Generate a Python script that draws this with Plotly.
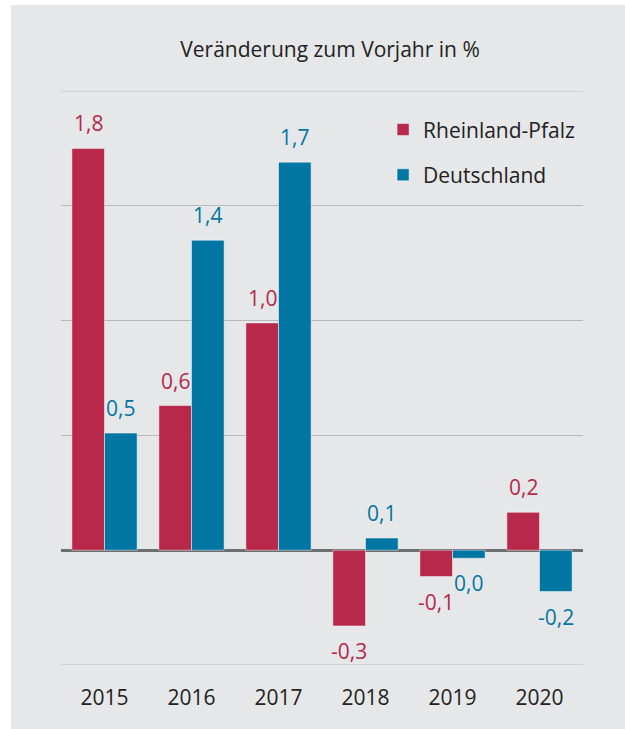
import plotly.graph_objects as go

years = ["2015", "2016", "2017", "2018", "2019", "2020"]

rp_name = "Rheinland-Pfalz"
rp_values = [1.75, 0.63, 0.99, -0.33, -0.115, 0.165]
rp_labels = ["1,8", "0,6", "1,0", "-0,3", "-0,1", "0,2"]

de_name = "Deutschland"
de_values = [0.51, 1.35, 1.69, 0.053, -0.035, -0.18]
de_labels = ["0,5", "1,4", "1,7", "0,1", "0,0", "-0,2"]

title_text = "Veränderung zum Vorjahr in %"

RED = "#b7284b"
BLUE = "#0276a3"
BG = "#e6e7e9"
TXT = "#222222"
GRID = "#b8b9bb"
FONT = "Open Sans"

fig = go.Figure()
fig.add_trace(go.Bar(name=rp_name, x=years, y=rp_values, marker_color=RED,
                     marker_line=dict(color="rgba(255,255,255,0.6)", width=0.8),
                     legendgroup="rp"))
fig.add_trace(go.Bar(name=de_name, x=years, y=de_values, marker_color=BLUE,
                     marker_line=dict(color="rgba(255,255,255,0.6)", width=0.8),
                     legendgroup="de"))

# value labels at the end of each bar (bar centres sit at +-0.1875 of a category)
half = (1 - 0.25) / 4
for vals, labs, col, off in [(rp_values, rp_labels, RED, -half), (de_values, de_labels, BLUE, half)]:
    for i, (v, lab) in enumerate(zip(vals, labs)):
        up = v >= 0
        fig.add_annotation(x=i + off, y=v, text=lab, showarrow=False,
                           xref="x", yref="y",
                           yanchor="bottom" if up else "top",
                           yshift=9 if up else -9,
                           font=dict(family=FONT, size=21, color=col))

# thin white border on the left and top of the grey panel
fig.add_shape(type="rect", xref="paper", yref="paper", layer="above",
              x0=-0.5, x1=-0.0958, y0=-0.5, y1=1.5, fillcolor="white", line_width=0)
fig.add_shape(type="rect", xref="paper", yref="paper", layer="above",
              x0=-0.5, x1=1.5, y0=1.1498, y1=1.5, fillcolor="white", line_width=0)

# top and bottom grid lines (plotly drops grid lines sitting on the plot edge)
for gy in (-0.5, 2.0):
    fig.add_hline(y=gy, line_color=GRID, line_width=1.2, layer="below")

fig.update_layout(
    width=625, height=729,
    margin=dict(l=61, r=42, t=91, b=64),
    paper_bgcolor=BG, plot_bgcolor=BG,
    barmode="group", bargap=0.25, bargroupgap=0,
    font=dict(family=FONT, size=21, color=TXT),
    title=dict(text=title_text, x=330 / 625, xanchor="center", y=1 - 50 / 729, yanchor="middle",
               font=dict(family=FONT, size=21, color=TXT)),
    legend=dict(x=0.617, y=0.968, xanchor="left", yanchor="top", bgcolor="rgba(0,0,0,0)",
                font=dict(family=FONT, size=21, color=TXT), tracegroupgap=15,
                traceorder="grouped"),
    showlegend=True,
)
fig.update_xaxes(type="category", showgrid=False, ticks="outside", ticklen=14,
                 tickcolor="rgba(0,0,0,0)", tickfont=dict(size=21, color=TXT),
                 showline=False, zeroline=False)
fig.update_yaxes(range=[-0.5, 2.0], dtick=0.5, showticklabels=False, ticks="",
                 gridcolor=GRID, gridwidth=1.2,
                 zeroline=True, zerolinecolor="#6d6e70", zerolinewidth=2.5)

fig.write_html("out.html", config={"displayModeBar": False},
               post_script="document.body.style.margin='0';document.body.style.overflow='hidden';")
